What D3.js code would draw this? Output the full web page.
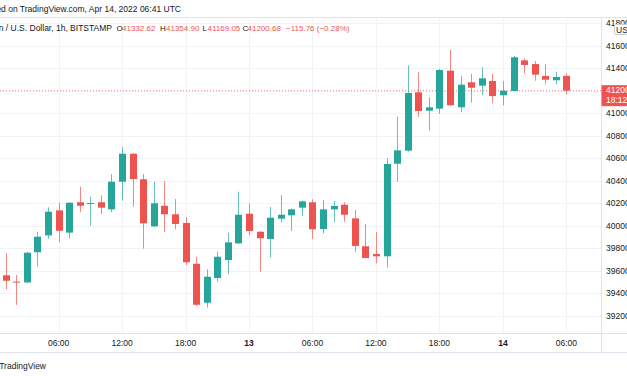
<!DOCTYPE html>
<html><head><meta charset="utf-8">
<script src="https://cdn.jsdelivr.net/npm/d3@7/dist/d3.min.js"></script>
<style>
html,body{margin:0;padding:0;background:#fff;overflow:hidden;}
svg{display:block;font-family:"Liberation Sans","DejaVu Sans",sans-serif;}
</style></head>
<body>
<svg id="c" width="627" height="376"></svg>
<script>
// Hourly candles, Apr 12 2022 01:00 UTC .. Apr 14 2022 06:00 UTC
const startTime = "2022-04-12T01:00:00Z";
const opens  = [39561,39505,39498,39766,39916,40138,39940,40210,40198,40210,
                40147,40392,40641,40414,39996,40179,40103,40026,39664,39318,
                39537,39697,39845,40108,39948,39884,40064,40094,40162,40210,
                39972,40147,40188,40067,39819,39750,39730,40552,40668,41186,
                41023,41041,41378,41053,41275,41245,41287,41160,41198,41470,
                41437,41331,41293,41332.62];
const highs  = [39757,39564,39770,39948,40165,40206,40210,40348,40259,40272,
                40461,40698,40645,40461,40392,40399,40239,40076,39726,39615,
                39771,39940,40304,40201,39955,40168,40274,40155,40225,40236,
                40230,40221,40210,40141,40017,39946,40600,40970,41426,41364,
                41142,41393,41562,41331,41349,41408,41349,41287,41509,41488,
                41464,41437,41369,41354.90];
const lows   = [39437,39298,39490,39638,39886,39854,39890,40123,40002,40106,
                40123,40224,40170,39798,39990,39946,39970,39653,39289,39274,
                39505,39573,39838,39919,39593,39721,40028,39955,40091,39884,
                39934,40032,40037,39768,39712,39668,39629,40392,40660,40967,
                40845,40996,41065,41009,41094,41162,41089,41071,41195,41355,
                41289,41257,41257,41169.05];
const closes = [39513,39498,39762,39904,40126,39957,40206,40179,40203,40162,
                40392,40641,40416,40023,40201,40103,40017,39677,39300,39549,
                39726,39854,40099,39955,39890,40073,40099,40147,40218,39970,
                40147,40177,40099,39822,39715,39730,40550,40671,41180,41020,
                41053,41384,41071,41254,41227,41310,41153,41200,41497,41429,
                41343,41298,41322,41200.68];
const priceTicks = [39200,39400,39600,39800,40000,40200,40400,40600,40800,41000,41200,41400,41600,41800];
const lastPrice = 41200.68;
const lastLabel = ["41200","18:12"];
const headerTitle = "Bitcoin / U.S. Dollar, 1h, BITSTAMP";
const ohlcLabels = ["O","H","L","C"];
const ohlcValues = ["41332.62","41354.90","41169.05","41200.68"];
const changeText = "\u2212115.76 (\u22120.28%)";
const publishText = "Published on TradingView.com, Apr 14, 2022 06:41 UTC";

const UP = "#26a69a", DOWN = "#ef5350";
const svg = d3.select("#c");
const W = 627, H = 376;
const plotR = 601, plotT = 17, plotB = 333, axisB = 352;

const t0 = new Date(startTime);
const times = opens.map((d,i)=> new Date(t0.getTime() + i*3600e3));
const x = d3.scaleUtc().domain([times[0], times[times.length-1]]).range([5.7, 566.4]);
const y = d3.scaleLinear().domain([39200, 41600]).range([316, 45.7]);

// grid
const grid = svg.append("g");
const xt = d3.utcHour.every(6).range(d3.utcHour.offset(times[0],-2), d3.utcHour.offset(times[times.length-1],4));
grid.selectAll("line.v").data(xt).join("line")
  .attr("x1",d=>Math.round(x(d))+0.5).attr("x2",d=>Math.round(x(d))+0.5)
  .attr("y1",plotT).attr("y2",plotB).attr("stroke","#f0f2f5").attr("stroke-width",1);
grid.selectAll("line.h").data(priceTicks).join("line")
  .attr("x1",0).attr("x2",plotR).attr("y1",d=>Math.round(y(d))+0.5).attr("y2",d=>Math.round(y(d))+0.5)
  .attr("stroke","#f0f2f5").attr("stroke-width",1);

// frame lines
svg.append("line").attr("x1",0).attr("x2",W).attr("y1",plotT+0.5).attr("y2",plotT+0.5).attr("stroke","#e0e3eb");
svg.append("line").attr("x1",0).attr("x2",W).attr("y1",plotB+0.5).attr("y2",plotB+0.5).attr("stroke","#e0e3eb");
svg.append("line").attr("x1",0).attr("x2",W).attr("y1",axisB+0.5).attr("y2",axisB+0.5).attr("stroke","#e0e3eb");
svg.append("line").attr("x1",plotR+0.5).attr("x2",plotR+0.5).attr("y1",plotT).attr("y2",axisB).attr("stroke","#e0e3eb");

// last price dotted line
svg.append("line").attr("x1",0).attr("x2",plotR).attr("y1",y(lastPrice)).attr("y2",y(lastPrice))
  .attr("stroke",DOWN).attr("stroke-width",1).attr("stroke-dasharray","1,2").attr("opacity",0.7);

// candles
const idx = d3.range(opens.length);
const cg = svg.append("g");
const bw = 7;
cg.selectAll("line.w").data(idx).join("line")
  .attr("x1",i=>Math.round(x(times[i]))+0.5).attr("x2",i=>Math.round(x(times[i]))+0.5)
  .attr("y1",i=>y(highs[i])).attr("y2",i=>y(lows[i]))
  .attr("stroke",i=>closes[i]>=opens[i]?UP:DOWN).attr("stroke-opacity",0.7).attr("stroke-width",1);
cg.selectAll("rect").data(idx).join("rect")
  .attr("x",i=>Math.round(x(times[i]))+0.5-bw/2)
  .attr("width",bw)
  .attr("y",i=>y(Math.max(opens[i],closes[i])))
  .attr("height",i=>Math.max(1, Math.abs(y(opens[i])-y(closes[i]))))
  .attr("fill",i=>closes[i]>=opens[i]?UP:DOWN);

// price axis labels
const ya = svg.append("g").attr("font-size","8.5px").attr("fill","#131722");
ya.selectAll("text").data(priceTicks).join("text")
  .attr("x",606).attr("y",d=>y(d)+3).text(d=>d);
// USD box
svg.append("rect").attr("x",614.5).attr("y",24.5).attr("width",16).attr("height",10)
  .attr("fill","#fff").attr("stroke","#c8ccd6").attr("rx",1.5);
svg.append("text").attr("x",616).attr("y",32.5).attr("font-size","8.5px").attr("fill","#131722").text("USD");

// last price tag
const ly = y(lastPrice);
svg.append("rect").attr("x",plotR+0.5).attr("y",ly-5.5).attr("width",W-plotR).attr("height",21).attr("fill",DOWN);
svg.append("text").attr("x",606).attr("y",ly+2.5).attr("font-size","8.5px").attr("fill","#fff").text(lastLabel[0]);
svg.append("text").attr("x",606).attr("y",ly+12.5).attr("font-size","8.5px").attr("fill","#fff").text(lastLabel[1]);

// time axis
const fmt = d=> d.getUTCHours()===0 ? String(d.getUTCDate()) : d3.utcFormat("%H:%M")(d);
const xa = svg.append("g").attr("font-size","8.5px").attr("fill","#131722").attr("text-anchor","middle");
xa.selectAll("text").data(xt.filter(d=>x(d)>10 && x(d)<595)).join("text")
  .attr("x",d=>x(d)).attr("y",345.5)
  .attr("font-weight",d=>d.getUTCHours()===0?"bold":"normal")
  .text(fmt);

// header
svg.append("text").attr("x",181).attr("y",12).attr("text-anchor","end").attr("font-size","8.5px").attr("fill","#131722").text(publishText);
svg.append("text").attr("x",112).attr("y",31).attr("text-anchor","end").attr("font-size","8.5px").attr("fill","#131722").text(headerTitle);
const lx = [116.5,160,202.5,242.5];
const vx = [122,166,207.5,247.5];
ohlcLabels.forEach((l,k)=>{
  svg.append("text").attr("x",lx[k]).attr("y",31).attr("font-size","8px").attr("fill","#131722").text(l);
  svg.append("text").attr("x",vx[k]).attr("y",31).attr("font-size","8px").attr("fill",DOWN).text(ohlcValues[k]);
});
svg.append("text").attr("x",286).attr("y",31).attr("font-size","8px").attr("fill",DOWN).text(changeText);

// footer logo text
svg.append("text").attr("x",46).attr("y",369).attr("text-anchor","end").attr("font-size","8.5px").attr("fill","#131722").text("TradingView");
</script>
</body></html>
